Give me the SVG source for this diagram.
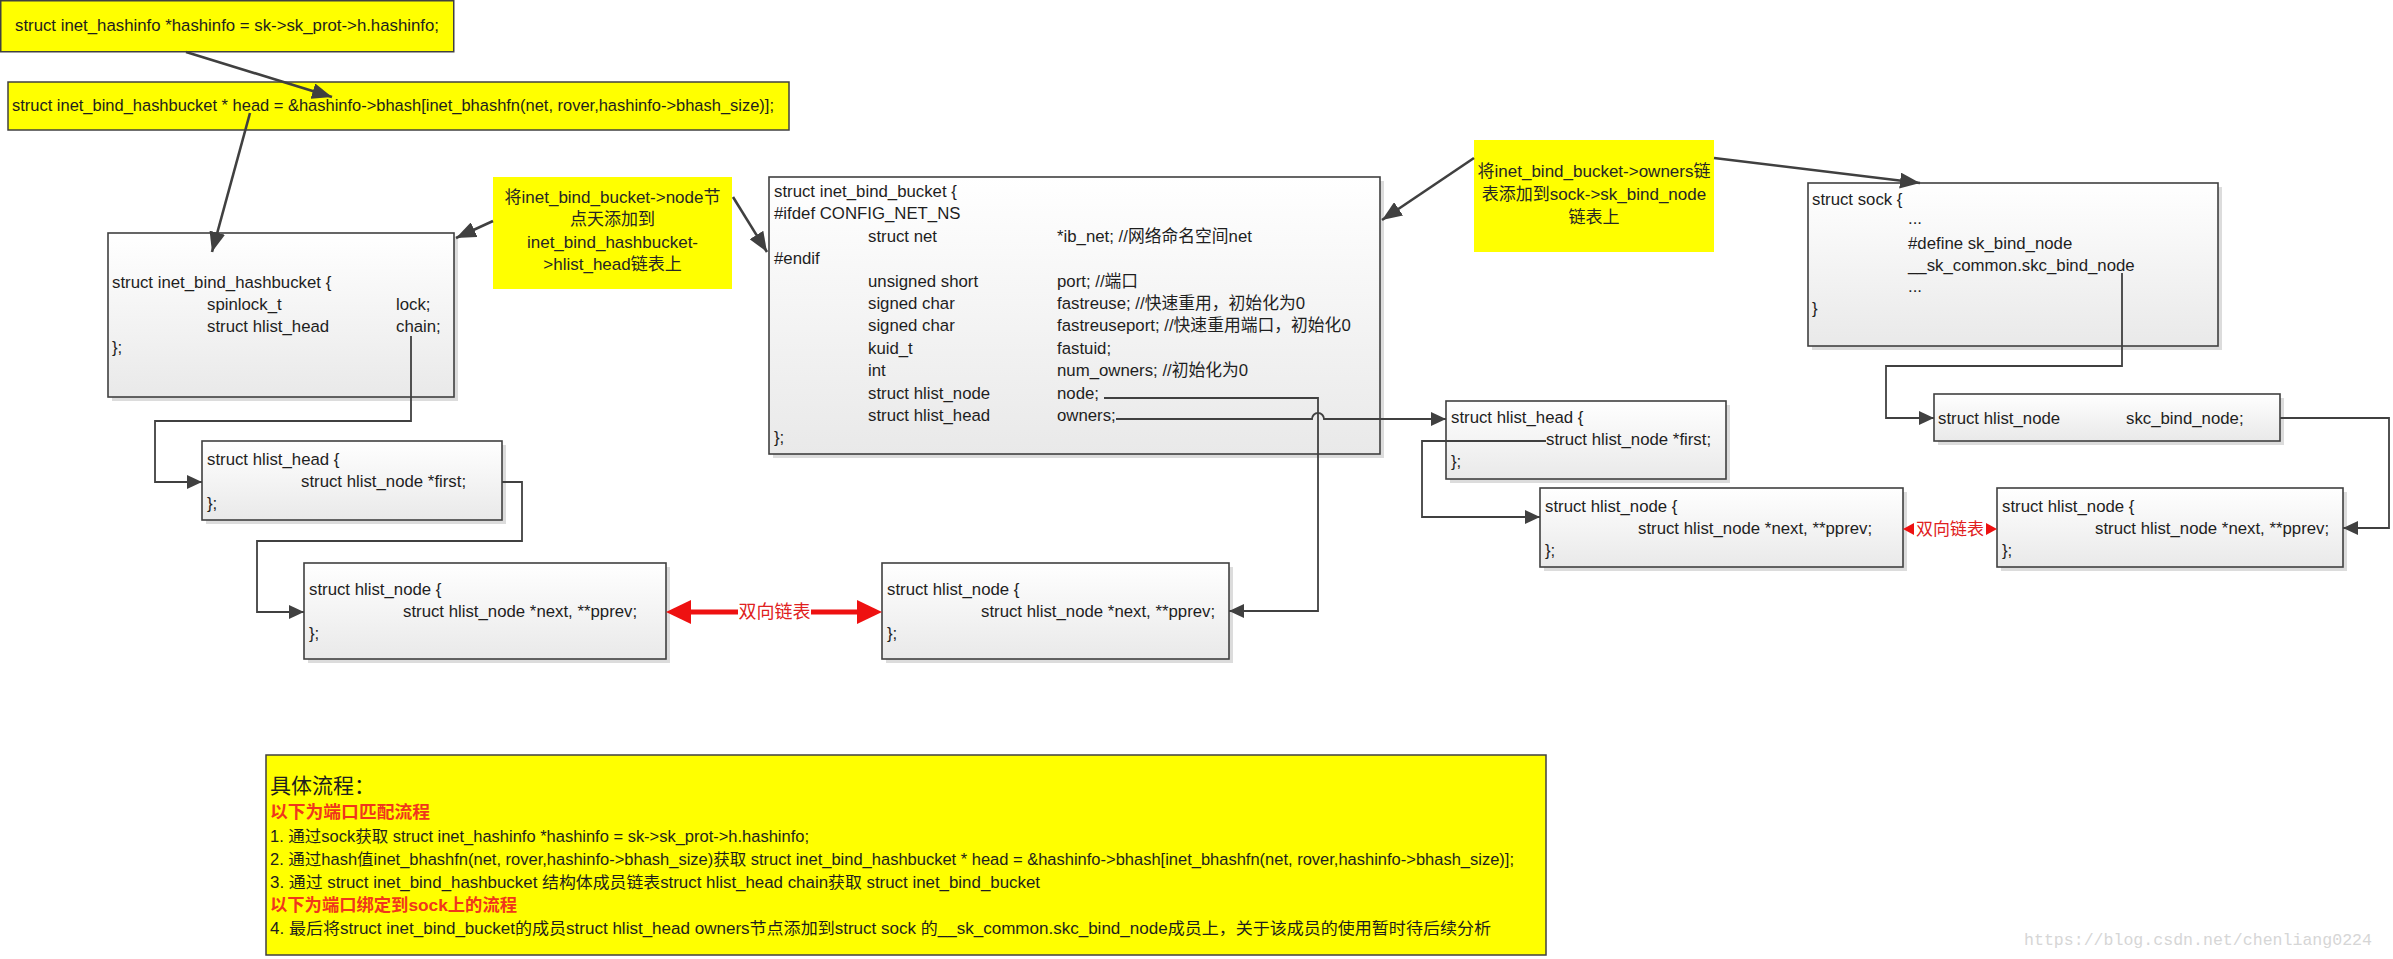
<svg xmlns="http://www.w3.org/2000/svg" width="2393" height="959" viewBox="0 0 2393 959">
<defs>
<linearGradient id="gfill" x1="0" y1="0" x2="0" y2="1">
<stop offset="0" stop-color="#ffffff"/>
<stop offset="1" stop-color="#e9e9e9"/>
</linearGradient>
<marker id="ah" markerUnits="userSpaceOnUse" markerWidth="15" markerHeight="14" refX="15" refY="7" orient="auto">
<path d="M0,0 L15,7 L0,14 z" fill="#404040"/>
</marker>
<marker id="ahb" markerUnits="userSpaceOnUse" markerWidth="20" markerHeight="16" refX="20" refY="8" orient="auto">
<path d="M0,0 L20,8 L0,16 z" fill="#404040"/>
</marker>
</defs>
<style>
.t{font-family:"Liberation Sans","Noto Sans CJK SC",sans-serif;font-size:16.8px;fill:#1e1e1e}
.n{font-family:"Liberation Sans","Noto Sans CJK SC",sans-serif;font-size:17px;fill:#262626;text-anchor:middle}
.b{font-family:"Liberation Sans","Noto Sans CJK SC",sans-serif;font-size:16px;fill:#1e1e1e}
.red{font-family:"Liberation Sans","Noto Sans CJK SC",sans-serif;font-size:17px;font-weight:bold;fill:#f0361c}
.box{fill:url(#gfill);stroke:#404040;stroke-width:1.6}
.sh{fill:#dcdcdc}
.yb{fill:#ffff00;stroke:#404040;stroke-width:1.5}
.yn{fill:#ffff00}
.c{fill:none;stroke:#404040;stroke-width:1.8;marker-end:url(#ah)}
.d{fill:none;stroke:#404040;stroke-width:2.6;marker-end:url(#ahb)}
.rl{stroke:#ee1111;stroke-width:5;fill:none}
.ra{fill:#ee1111}
.rt{font-family:"Liberation Sans","Noto Sans CJK SC",sans-serif;fill:#e02020;text-anchor:middle}
</style>

<g id="hashinfo">
<rect class="yb" x="0.75" y="0.75" width="453" height="51"/>
<text class="t" x="227" y="31" text-anchor="middle">struct inet_hashinfo *hashinfo = sk-&gt;sk_prot-&gt;h.hashinfo;</text>
</g>

<g id="head">
<rect class="yb" x="8" y="82" width="781" height="48"/>
<text class="t" x="12" y="111" textLength="762" lengthAdjust="spacingAndGlyphs">struct inet_bind_hashbucket * head = &amp;hashinfo-&gt;bhash[inet_bhashfn(net, rover,hashinfo-&gt;bhash_size)];</text>
</g>

<g id="inet_bind_hashbucket">
<rect class="sh" x="112" y="237" width="346" height="164"/>
<rect class="box" x="108" y="233" width="346" height="164"/>
<text class="t" x="112" y="288">struct inet_bind_hashbucket {</text>
<text class="t" x="207" y="310">spinlock_t</text>
<text class="t" x="396" y="310">lock;</text>
<text class="t" x="207" y="332">struct hlist_head</text>
<text class="t" x="396" y="332">chain;</text>
<text class="t" x="112" y="353">};</text>
</g>

<g id="note_node">
<rect class="yn" x="493" y="177" width="239" height="112"/>
<text class="n" x="612.5" y="203">将inet_bind_bucket-&gt;node节</text>
<text class="n" x="612.5" y="225">点天添加到</text>
<text class="n" x="612.5" y="248">inet_bind_hashbucket-</text>
<text class="n" x="612.5" y="270">&gt;hlist_head链表上</text>
</g>

<g id="inet_bind_bucket">
<rect class="sh" x="773" y="181" width="611" height="277"/>
<rect class="box" x="769" y="177" width="611" height="277"/>
<text class="t" x="774" y="197">struct inet_bind_bucket {</text>
<text class="t" x="774" y="219">#ifdef CONFIG_NET_NS</text>
<text class="t" x="868" y="242">struct net</text>
<text class="t" x="1057" y="242">*ib_net; //网络命名空间net</text>
<text class="t" x="774" y="264">#endif</text>
<text class="t" x="868" y="287">unsigned short</text>
<text class="t" x="1057" y="287">port; //端口</text>
<text class="t" x="868" y="309">signed char</text>
<text class="t" x="1057" y="309">fastreuse; //快速重用，初始化为0</text>
<text class="t" x="868" y="331">signed char</text>
<text class="t" x="1057" y="331">fastreuseport; //快速重用端口，初始化0</text>
<text class="t" x="868" y="354">kuid_t</text>
<text class="t" x="1057" y="354">fastuid;</text>
<text class="t" x="868" y="376">int</text>
<text class="t" x="1057" y="376">num_owners; //初始化为0</text>
<text class="t" x="868" y="399">struct hlist_node</text>
<text class="t" x="1057" y="399">node;</text>
<text class="t" x="868" y="421">struct hlist_head</text>
<text class="t" x="1057" y="421">owners;</text>
<text class="t" x="774" y="443">};</text>
</g>

<g id="note_owners">
<rect class="yn" x="1474" y="140" width="240" height="112"/>
<text class="n" x="1594" y="177">将inet_bind_bucket-&gt;owners链</text>
<text class="n" x="1594" y="200">表添加到sock-&gt;sk_bind_node</text>
<text class="n" x="1594" y="223">链表上</text>
</g>

<g id="sock">
<rect class="sh" x="1812" y="187" width="410" height="163"/>
<rect class="box" x="1808" y="183" width="410" height="163"/>
<text class="t" x="1812" y="205">struct sock {</text>
<text class="t" x="1908" y="224">...</text>
<text class="t" x="1908" y="249">#define sk_bind_node</text>
<text class="t" x="1908" y="271">__sk_common.skc_bind_node</text>
<text class="t" x="1908" y="292">...</text>
<text class="t" x="1812" y="314">}</text>
</g>

<g id="hlist_head_chain">
<rect class="sh" x="206" y="445" width="300" height="79"/>
<rect class="box" x="202" y="441" width="300" height="79"/>
<text class="t" x="207" y="465">struct hlist_head {</text>
<text class="t" x="301" y="487">struct hlist_node *first;</text>
<text class="t" x="207" y="509">};</text>
</g>

<g id="hlist_node_1">
<rect class="sh" x="308" y="567" width="362" height="96"/>
<rect class="box" x="304" y="563" width="362" height="96"/>
<text class="t" x="309" y="595">struct hlist_node {</text>
<text class="t" x="403" y="617">struct hlist_node *next, **pprev;</text>
<text class="t" x="309" y="639">};</text>
</g>

<g id="hlist_node_2">
<rect class="sh" x="886" y="567" width="347" height="96"/>
<rect class="box" x="882" y="563" width="347" height="96"/>
<text class="t" x="887" y="595">struct hlist_node {</text>
<text class="t" x="981" y="617">struct hlist_node *next, **pprev;</text>
<text class="t" x="887" y="639">};</text>
</g>

<g id="hlist_head_owners">
<rect class="sh" x="1450" y="405" width="280" height="78"/>
<rect class="box" x="1446" y="401" width="280" height="78"/>
<text class="t" x="1451" y="423">struct hlist_head {</text>
<text class="t" x="1546" y="445">struct hlist_node *first;</text>
<text class="t" x="1451" y="467">};</text>
</g>

<g id="hlist_node_3">
<rect class="sh" x="1544" y="492" width="363" height="79"/>
<rect class="box" x="1540" y="488" width="363" height="79"/>
<text class="t" x="1545" y="512">struct hlist_node {</text>
<text class="t" x="1638" y="534">struct hlist_node *next, **pprev;</text>
<text class="t" x="1545" y="556">};</text>
</g>

<g id="skc_bind_node">
<rect class="sh" x="1938" y="398" width="346" height="47"/>
<rect class="box" x="1934" y="394" width="346" height="47"/>
<text class="t" x="1938" y="424">struct hlist_node</text>
<text class="t" x="2126" y="424">skc_bind_node;</text>
</g>

<g id="hlist_node_4">
<rect class="sh" x="2001" y="492" width="346" height="79"/>
<rect class="box" x="1997" y="488" width="346" height="79"/>
<text class="t" x="2002" y="512">struct hlist_node {</text>
<text class="t" x="2095" y="534">struct hlist_node *next, **pprev;</text>
<text class="t" x="2002" y="556">};</text>
</g>

<g id="flow">
<rect class="yb" x="266" y="755" width="1280" height="200"/>
<text class="b" x="270" y="793" style="font-size:21px">具体流程：</text>
<text class="red" x="270" y="818" textLength="160" lengthAdjust="spacingAndGlyphs">以下为端口匹配流程</text>
<text class="b" x="270" y="842" textLength="539" lengthAdjust="spacingAndGlyphs">1. 通过sock获取 struct inet_hashinfo *hashinfo = sk-&gt;sk_prot-&gt;h.hashinfo;</text>
<text class="b" x="270" y="865" textLength="1244" lengthAdjust="spacingAndGlyphs">2. 通过hash值inet_bhashfn(net, rover,hashinfo-&gt;bhash_size)获取 struct inet_bind_hashbucket * head = &amp;hashinfo-&gt;bhash[inet_bhashfn(net, rover,hashinfo-&gt;bhash_size)];</text>
<text class="b" x="270" y="888" textLength="770" lengthAdjust="spacingAndGlyphs">3. 通过 struct inet_bind_hashbucket 结构体成员链表struct hlist_head chain获取 struct inet_bind_bucket</text>
<text class="red" x="270" y="911" textLength="247" lengthAdjust="spacingAndGlyphs">以下为端口绑定到sock上的流程</text>
<text class="b" x="270" y="934" textLength="1221" lengthAdjust="spacingAndGlyphs">4. 最后将struct inet_bind_bucket的成员struct hlist_head owners节点添加到struct sock 的__sk_common.skc_bind_node成员上，关于该成员的使用暂时待后续分析</text>
</g>

<g id="connectors">
<path class="d" d="M186,52 L332,97"/>
<path class="d" d="M250,113 L212,252"/>
<path class="d" d="M493,221 L456,238"/>
<path class="d" d="M733,197 L767,252"/>
<path class="d" d="M1474,158 L1382,220"/>
<path class="d" d="M1714,158 L1920,183"/>
<path class="c" d="M411,336 V421 H155 V482 H202"/>
<path class="c" d="M502,482 H522 V541 H257 V612 H304"/>
<path class="c" d="M1104,398 H1318 V611 H1229"/>
<path class="c" d="M1116,419 H1312 A6,6 0 0 1 1324,419 H1446"/>
<path class="c" d="M1546,441 H1422 V517 H1540"/>
<path class="c" d="M2122,273 V366 H1886 V418 H1934"/>
<path class="c" d="M2280,418 H2389 V528 H2343"/>
<g id="dlist_1">
<path class="rl" d="M688,612 H738 M811,612 H860"/>
<polygon class="ra" points="666,612 691,600 691,624"/>
<polygon class="ra" points="882,612 857,600 857,624"/>
<text class="rt" x="774.5" y="618" style="font-size:18px">双向链表</text>
</g>
<g id="dlist_2">
<polygon class="ra" points="1903,529 1914,523 1914,535"/>
<polygon class="ra" points="1997,529 1986,523 1986,535"/>
<text class="rt" x="1950" y="535" style="font-size:17px">双向链表</text>
</g>
</g>

<text x="2024" y="945" style="font-family:'Liberation Mono','Noto Sans CJK SC',monospace;font-size:17px;fill:#d6d6d6" textLength="348" lengthAdjust="spacingAndGlyphs">https://blog.csdn.net/chenliang0224</text>
</svg>
